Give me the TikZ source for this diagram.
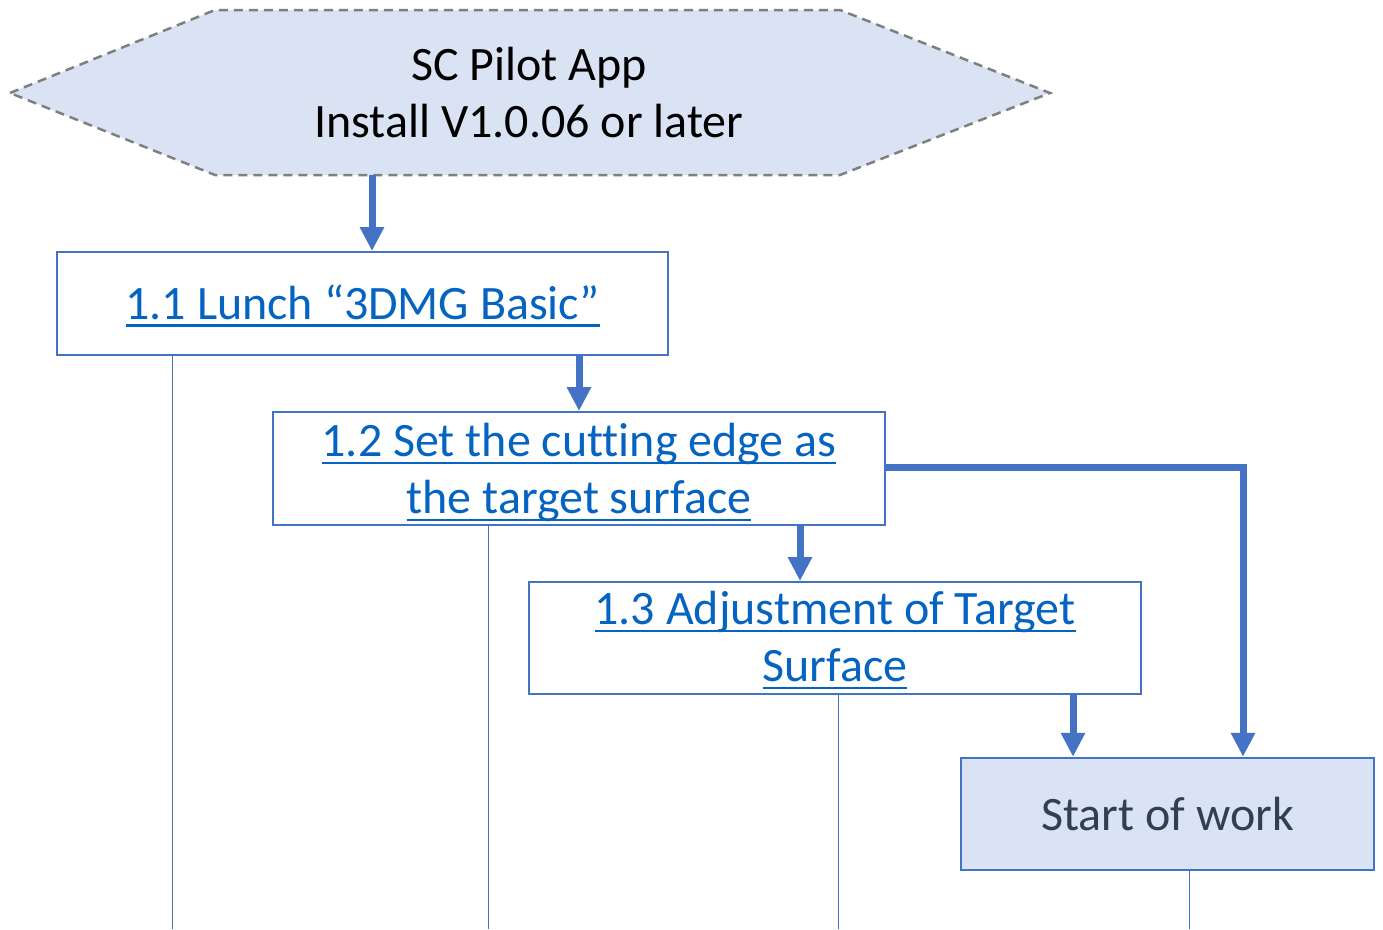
\documentclass[tikz,border=0pt]{standalone}
\usepackage{fontspec}
\setmainfont[Ligatures=NoCommon]{Carlito}
\newcommand\ulink[1]{\leavevmode\setbox0=\hbox{#1}\rlap{\raisebox{-7.5pt}{\rule{\wd0}{2.4pt}}}\box0}
\usetikzlibrary{arrows.meta,calc}
\definecolor{boxblue}{HTML}{4472C4}
\definecolor{fillblue}{HTML}{DAE3F3}
\definecolor{linkblue}{HTML}{0563C1}
\definecolor{darktext}{HTML}{333F50}
\definecolor{dashgray}{HTML}{7F7F7F}
\tikzset{
  stepbox/.style={draw=boxblue, line width=2pt, rectangle, inner sep=0pt},
  startbox/.style={stepbox, fill=fillblue, line width=2.5pt},
  steptext/.style={inner sep=0pt, align=center, font=\fontsize{48}{57}\selectfont, text=linkblue},
  starttext/.style={steptext, text=darktext},
  flow/.style={draw=boxblue, line width=7pt, -{Triangle[width=23pt,length=24pt]}},
  lane/.style={draw=boxblue, line width=1pt},
}
\begin{document}
\begin{tikzpicture}[x=1pt,y=-1pt]
\useasboundingbox (0,0) rectangle (1383,929);
% hexagon
\draw[fill=fillblue, draw=dashgray, line width=2.5pt, dash pattern=on 9pt off 6pt]
  (10,93) -- (215,10) -- (840,10) -- (1050,93) -- (840,175) -- (215,175) -- cycle;
\node[align=center, font=\fontsize{48}{57}\selectfont, inner sep=0pt] (app) at (529,92.5)
  {SC Pilot App\\Install V1.0.06 or later};
\coordinate (appb) at (372,175);
% boxes
\node[stepbox, minimum width=611pt, minimum height=103pt] (b11) at (362.5,303.5) {};
\node[steptext] (t11) at ([yshift=-2pt]b11.center) {\ulink{1.1 Lunch “3DMG Basic”}};
\node[stepbox, minimum width=612pt, minimum height=113pt] (b12) at (579,468.5) {};
\node[steptext] (t12) at ([yshift=-4pt]b12.center)
  {\ulink{1.2 Set the cutting edge as}\\\ulink{the target surface}};
\node[stepbox, minimum width=612pt, minimum height=112pt] (b13) at (835,638) {};
\node[steptext] (t13) at ([yshift=-2pt]b13.center)
  {\ulink{1.3 Adjustment of Target}\\\ulink{Surface}};
\node[startbox, minimum width=413pt, minimum height=112pt] (start) at (1167.5,814) {};
\node[starttext] (tstart) at (start.center) {Start of work};
% lanes
\coordinate (e1) at (172,929);
\coordinate (e2) at (488,929);
\coordinate (e3) at (838,929);
\coordinate (e4) at (1189,929);
\draw[lane] (b11.south -| e1) -- (e1);
\draw[lane] (b12.south -| e2) -- (e2);
\draw[lane] (b13.south -| e3) -- (e3);
\draw[lane] (start.south -| e4) -- (e4);
% arrows
\coordinate (x2) at (579,0);
\coordinate (x3) at (800,0);
\coordinate (x4) at (1073,0);
\coordinate (x5) at (1243,467);
\draw[flow] (appb) -- (appb |- b11.north);
\draw[flow] (b11.south -| x2) -- (b12.north -| x2);
\draw[flow] (b12.south -| x3) -- (b13.north -| x3);
\draw[flow] (b13.south -| x4) -- (start.north -| x4);
\draw[flow] (b12.east |- x5) -- (x5) -- (x5 |- start.north);
\end{tikzpicture}
\end{document}
